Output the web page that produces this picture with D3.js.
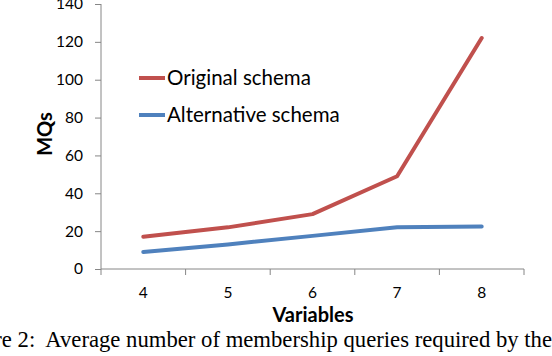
<!DOCTYPE html>
<html lang="en">
<head>
<meta charset="UTF-8">
<title>MQs vs Variables</title>
<script src="https://d3js.org/d3.v7.min.js"></script>
<style>
  body { margin: 0; background: #fff; }
  svg { display: block; }
  text { font-family: Lato, "Open Sans", sans-serif; }
  text.caption { font-family: "Liberation Serif", "DejaVu Serif", serif; white-space: pre; }
</style>
</head>
<body>
<svg id="chart" width="552" height="356"></svg>
<script>
  // data
  const variables = ["4", "5", "6", "7", "8"];
  const original = [17, 22, 29, 49, 122];
  const alternative = [9, 13, 17.5, 22, 22.5];
  const yTicks = [0, 20, 40, 60, 80, 100, 120, 140];
  const seriesNames = ["Original schema", "Alternative schema"];
  const caption = "Figure 2:  Average number of membership queries required by the";

  const red = "#c0504d", blue = "#4f81bd", axisColor = "#868686";

  const svg = d3.select("#chart");
  const plotL = 101, plotR = 524, plotT = 4, plotB = 269;

  const x = d3.scaleBand().domain(variables).range([plotL, plotR]);
  const y = d3.scaleLinear().domain([0, 140]).range([plotB, plotT]);

  // y axis
  const yAxis = svg.append("g")
    .attr("transform", "translate(" + plotL + ",0)")
    .call(d3.axisLeft(y).tickValues(yTicks).tickSize(6).tickPadding(12));
  yAxis.select(".domain").attr("stroke", axisColor).attr("d", "M0," + y(0) + "V" + y(140));
  yAxis.selectAll(".tick line").attr("stroke", axisColor);
  yAxis.selectAll(".tick text").attr("font-size", 15.5).attr("fill", "#000")
    .attr("font-family", null);

  // x axis: ticks at band boundaries
  const xAxis = svg.append("g").attr("transform", "translate(0," + plotB + ")");
  xAxis.append("line").attr("x1", plotL).attr("x2", plotR).attr("stroke", axisColor);
  const bounds = variables.map(v => x(v)).concat([x(variables[variables.length - 1]) + x.bandwidth()]);
  xAxis.selectAll("line.tk").data(bounds).enter().append("line")
    .attr("class", "tk")
    .attr("x1", d => d).attr("x2", d => d)
    .attr("y1", 0).attr("y2", 6)
    .attr("stroke", axisColor);
  xAxis.selectAll("text").data(variables).enter().append("text")
    .attr("x", d => x(d) + x.bandwidth() / 2)
    .attr("y", 29)
    .attr("text-anchor", "middle")
    .attr("font-size", 15.5)
    .text(d => d);

  // lines
  const line = d3.line()
    .x((d, i) => x(variables[i]) + x.bandwidth() / 2)
    .y(d => y(d));

  [[original, red], [alternative, blue]].forEach(([vals, col]) => {
    svg.append("path")
      .datum(vals)
      .attr("d", line)
      .attr("fill", "none")
      .attr("stroke", col)
      .attr("stroke-width", 4)
      .attr("stroke-linejoin", "round")
      .attr("stroke-linecap", "round");
  });

  // legend
  const legend = svg.append("g");
  [[seriesNames[0], red, 78], [seriesNames[1], blue, 115]].forEach(([name, col, ly]) => {
    legend.append("line")
      .attr("x1", 139).attr("x2", 165)
      .attr("y1", ly).attr("y2", ly)
      .attr("stroke", col).attr("stroke-width", 4);
    legend.append("text")
      .attr("x", 167).attr("y", ly + 7)
      .attr("font-size", 20.5)
      .text(name);
  });

  // axis titles
  svg.append("text")
    .attr("x", 313).attr("y", 322)
    .attr("text-anchor", "middle")
    .attr("font-size", 20).attr("font-weight", "bold")
    .text("Variables");
  svg.append("text")
    .attr("transform", "translate(52,134) rotate(-90)")
    .attr("text-anchor", "middle")
    .attr("font-size", 20).attr("font-weight", "bold")
    .text("MQs");

  // caption (cut by the page edges like the reference)
  svg.append("text")
    .attr("class", "caption")
    .attr("x", 552).attr("y", 347)
    .attr("text-anchor", "end")
    .attr("font-size", 22.7)
    .text(caption);
</script>
</body>
</html>
